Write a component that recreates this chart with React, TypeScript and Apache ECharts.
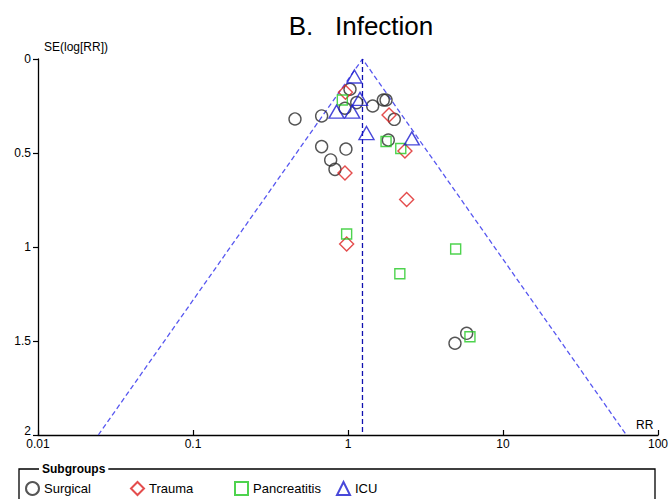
import React, { useEffect, useRef } from "react";
import * as echarts from "echarts";

// Surgical (circles)
const surgicalRR = [1.03, 0.956, 1.138, 1.443, 1.69, 1.76, 0.455, 0.676, 1.99, 1.82, 0.676, 0.97, 0.773, 0.824, 5.83, 4.9];
const surgicalSE = [0.161, 0.262, 0.232, 0.25, 0.218, 0.218, 0.319, 0.303, 0.321, 0.431, 0.466, 0.479, 0.537, 0.587, 1.459, 1.512];
// Trauma (diamonds)
const traumaRR = [0.963, 1.84, 2.33, 0.956, 2.39, 0.98];
const traumaSE = [0.177, 0.298, 0.489, 0.606, 0.747, 0.984];
// Pancreatitis (squares)
const pancRR = [0.919, 1.76, 2.19, 0.98, 4.95, 2.16, 6.12];
const pancSE = [0.218, 0.439, 0.476, 0.931, 1.011, 1.142, 1.477];
// ICU (triangles)
const icuRR = [1.1, 1.195, 0.843, 1.066, 1.316, 2.58];
const icuSE = [0.093, 0.212, 0.28, 0.28, 0.394, 0.422];

// Funnel (95% pseudo-confidence limits) and pooled estimate
const funnelRR = [0.0245, 1.24, 62.5];
const funnelSE = [2, 0, 2];
const pooledRR = [1.24, 1.24];
const pooledSE = [0, 2];

const xTicks = [0.01, 0.1, 1, 10, 100];
const yTicks = [0, 0.5, 1, 1.5, 2];
const subgroups = ["Surgical", "Trauma", "Pancreatitis", "ICU"];

const pairs = (xs: number[], ys: number[]) => xs.map((x, i) => [x, ys[i]]);

export default function App() {
  const ref = useRef<HTMLDivElement>(null);
  useEffect(() => {
    if (!ref.current) return;
    const chart = echarts.init(ref.current, null, { renderer: "svg" });
    const font = "Liberation Sans, Arial, sans-serif";
    const hollow = (color: string, symbol: string, size: any, name: string, xs: number[], ys: number[]) => ({
      name,
      type: "scatter",
      symbol,
      symbolSize: size,
      data: pairs(xs, ys),
      itemStyle: { color: "rgba(255,255,255,0)", borderColor: color, borderWidth: 1.4 },
      z: 5,
    });
    const legendLefts = [20, 125, 229, 331];
    chart.setOption({
      animation: false,
      backgroundColor: "#fff",
      textStyle: { fontFamily: font },
      title: {
        text: "B.   Infection",
        left: 356,
        textAlign: "center",
        top: 8,
        textStyle: { fontSize: 26, fontWeight: "normal", color: "#000", fontFamily: font },
      },
      grid: { left: 38, right: 14, top: 59, bottom: 64, containLabel: false },
      xAxis: {
        type: "log",
        logBase: 10,
        min: xTicks[0],
        max: xTicks[xTicks.length - 1],
        axisLine: { onZero: false, lineStyle: { color: "#000", width: 1.3 } },
        axisTick: { inside: true, length: 5, lineStyle: { color: "#000", width: 1.2 } },
        axisLabel: {
          color: "#000",
          fontSize: 12,
          margin: 3,
          fontFamily: font,
          formatter: (v: number) => String(+v.toPrecision(3)),
        },
        splitLine: { show: false },
        minorTick: { show: false },
      },
      yAxis: {
        type: "value",
        inverse: true,
        min: yTicks[0],
        max: yTicks[yTicks.length - 1],
        interval: 0.5,
        axisLine: { show: true, onZero: false, lineStyle: { color: "#000", width: 1.3 } },
        axisTick: { show: true, length: 5, lineStyle: { color: "#000", width: 1.2 } },
        axisLabel: {
          color: "#000",
          fontSize: 12,
          margin: 7,
          fontFamily: font,
          formatter: (v: number) => (v === 2 ? "{up|2}" : String(v)),
          rich: { up: { fontSize: 12, color: "#000", fontFamily: font, padding: [0, 0, 8, 0] } },
        },
        splitLine: { show: false },
      },
      legend: subgroups.map((name, i) => ({
        left: legendLefts[i],
        top: 476,
        itemWidth: 13,
        itemHeight: 13,
        textStyle: { fontSize: 13, color: "#000", fontFamily: font },
        data: [name],
      })),
      graphic: [
        {
          type: "rect",
          shape: { x: 19, y: 469, width: 636, height: 60 },
          style: { fill: "none", stroke: "#000", lineWidth: 1.3 },
          z: 1,
        },
        {
          type: "text",
          x: 39,
          y: 469,
          style: {
            text: "Subgroups",
            font: "bold 12px Liberation Sans, Arial, sans-serif",
            fill: "#000",
            backgroundColor: "#fff",
            padding: [0, 3, 0, 3],
            textVerticalAlign: "middle",
          },
          z: 2,
        },
        {
          type: "text",
          x: 44,
          y: 47,
          style: { text: "SE(log[RR])", font: "12px Liberation Sans, Arial, sans-serif", fill: "#000", textVerticalAlign: "middle" },
        },
        {
          type: "text",
          x: 636,
          y: 425,
          style: { text: "RR", font: "12px Liberation Sans, Arial, sans-serif", fill: "#000", textVerticalAlign: "middle" },
        },
      ],
      series: [
        {
          name: "funnel",
          type: "line",
          data: pairs(funnelRR, funnelSE),
          symbol: "none",
          lineStyle: { color: "#5757f0", width: 1.3, type: [5, 3] },
          silent: true,
          z: 2,
        },
        {
          name: "pooled",
          type: "line",
          data: pairs(pooledRR, pooledSE),
          symbol: "none",
          lineStyle: { color: "#1010b0", width: 1.3, type: [5, 3] },
          silent: true,
          z: 2,
        },
        hollow("#2a2a2a", "circle", 12, subgroups[0], surgicalRR, surgicalSE),
        hollow("#dd2020", "diamond", 14, subgroups[1], traumaRR, traumaSE),
        hollow("#22c822", "rect", 10, subgroups[2], pancRR, pancSE),
        hollow("#1a1ad0", "triangle", [15, 13], subgroups[3], icuRR, icuSE),
      ],
    });
    return () => chart.dispose();
  }, []);
  return (
    <div
      ref={ref}
      style={{ position: "fixed", left: 0, top: 0, width: 672, height: 499, background: "#fff" }}
    />
  );
}
